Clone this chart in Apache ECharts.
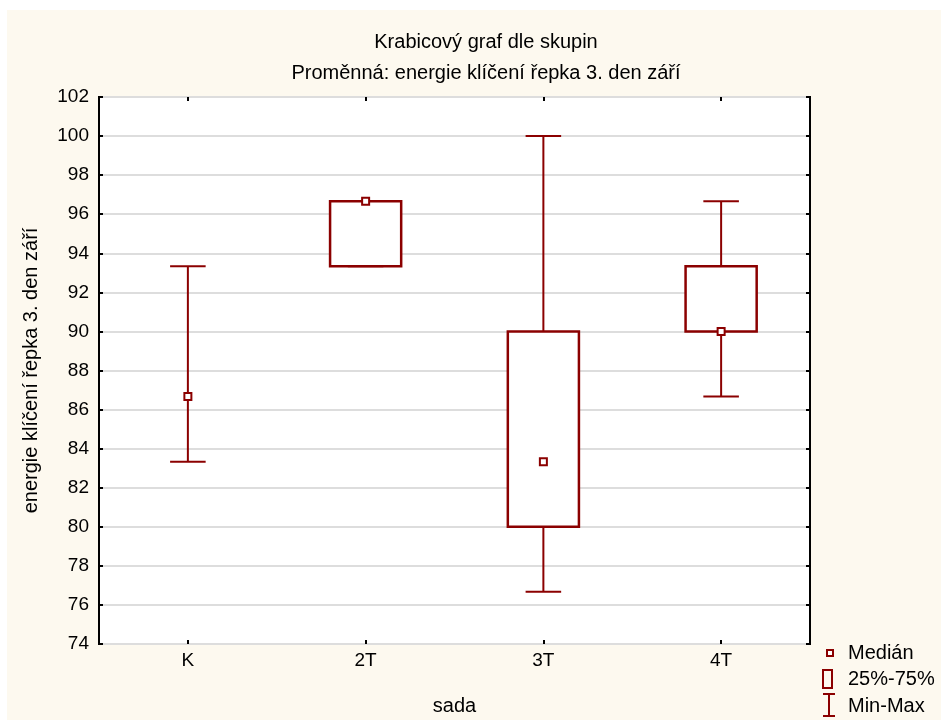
<!DOCTYPE html>
<html>
<head>
<meta charset="utf-8">
<script src="https://cdn.jsdelivr.net/npm/echarts@6/dist/echarts.min.js"></script>
<style>
  html, body { margin: 0; padding: 0; background: #ffffff; overflow: hidden; }
  #frame { position: absolute; left: 7px; top: 10px; right: 0; bottom: 0; background: #fdf9ef; }
  #chart { position: absolute; left: 0; top: 0; width: 941px; height: 720px; }
</style>
</head>
<body>
<div id="frame"></div>
<div id="chart"></div>
<script>
// Groups and their five-number summaries
const categories = ['K', '2T', '3T', '4T'];
const minVals    = [83.33, 93.33, 76.67, 86.67];
const q1Vals     = [null,  93.33, 80.00, 90.00];
const medianVals = [86.67, 96.67, 83.33, 90.00];
const q3Vals     = [null,  96.67, 90.00, 93.33];
const maxVals    = [93.33, 96.67, 100.00, 96.67];

// Value axis ticks
const yMin = 74, yMax = 102, yStep = 2;

const DARK_RED = '#8b0000';
const FONT = 'Liberation Sans, Arial, sans-serif';

const summary = categories.map((c, i) => [i, minVals[i], q1Vals[i], medianVals[i], q3Vals[i], maxVals[i]]);

const chart = echarts.init(document.getElementById('chart'), null, { renderer: 'canvas' });

function renderWhisker(params, api) {
  const idx = api.value(0);
  const band = api.size([1, 0])[0];
  const capHalf = band * 0.1;
  const pMin = api.coord([idx, api.value(1)]);
  const pMax = api.coord([idx, api.value(5)]);
  const style = { stroke: DARK_RED, lineWidth: 2, fill: null };
  return {
    type: 'group',
    children: [
      { type: 'line', shape: { x1: pMin[0], y1: pMin[1], x2: pMax[0], y2: pMax[1] }, style },
      { type: 'line', shape: { x1: pMin[0] - capHalf, y1: pMin[1], x2: pMin[0] + capHalf, y2: pMin[1] }, style },
      { type: 'line', shape: { x1: pMax[0] - capHalf, y1: pMax[1], x2: pMax[0] + capHalf, y2: pMax[1] }, style }
    ]
  };
}

function renderBox(params, api) {
  const idx = api.value(0);
  const lo = api.value(2), hi = api.value(4);
  if (lo == null || hi == null || isNaN(lo) || isNaN(hi)) return null;
  const band = api.size([1, 0])[0];
  const half = band * 0.2;
  const pLo = api.coord([idx, lo]);
  const pHi = api.coord([idx, hi]);
  return {
    type: 'rect',
    shape: { x: pLo[0] - half, y: pHi[1], width: half * 2, height: pLo[1] - pHi[1] },
    style: { fill: '#ffffff', stroke: DARK_RED, lineWidth: 2.5 }
  };
}

const labelStyle = { fontFamily: FONT, fontSize: 19, color: '#000' };
const nameStyle = { fontFamily: FONT, fontSize: 20, color: '#000' };
const legendFont = '20px ' + FONT;

const option = {
  backgroundColor: 'transparent',
  animation: false,
  title: [
    { text: 'Krabicový graf dle skupin', left: 481, top: 27, textAlign: 'center',
      textStyle: { fontFamily: FONT, fontSize: 20, fontWeight: 'normal', color: '#000' } },
    { text: 'Proměnná: energie klíčení řepka 3. den září', left: 481, top: 58, textAlign: 'center',
      textStyle: { fontFamily: FONT, fontSize: 20, fontWeight: 'normal', color: '#000' } }
  ],
  grid: {
    left: 99, top: 97, right: 131, bottom: 76,
    outerBoundsMode: 'none', containLabel: false,
    show: true, backgroundColor: '#ffffff', borderColor: '#000', borderWidth: 2
  },
  xAxis: [
    {
      type: 'category', data: categories, position: 'bottom', boundaryGap: true,
      name: 'sada', nameLocation: 'middle', nameGap: 52,
      nameTextStyle: nameStyle,
      axisLine: { show: false },
      axisTick: { show: true, inside: true, alignWithLabel: true, length: 4, lineStyle: { color: '#000', width: 2 } },
      axisLabel: { ...labelStyle, margin: 7 },
      splitLine: { show: false }
    },
    {
      type: 'category', data: categories, position: 'top', boundaryGap: true,
      axisLine: { show: false },
      axisTick: { show: true, inside: true, alignWithLabel: true, length: 4, lineStyle: { color: '#000', width: 2 } },
      axisLabel: { show: false },
      splitLine: { show: false }
    }
  ],
  yAxis: [
    {
      type: 'value', min: yMin, max: yMax, interval: yStep, position: 'left',
      name: 'energie klíčení řepka 3. den září', nameLocation: 'middle', nameGap: 58, nameRotate: 90,
      nameTextStyle: nameStyle,
      axisLine: { show: false },
      axisTick: { show: true, inside: true, length: 4, lineStyle: { color: '#000', width: 2 } },
      axisLabel: { ...labelStyle, margin: 10 },
      splitLine: { show: true, lineStyle: { color: '#dddddd', width: 2 } }
    },
    {
      type: 'value', min: yMin, max: yMax, interval: yStep, position: 'right',
      axisLine: { show: false },
      axisTick: { show: true, inside: true, length: 4, lineStyle: { color: '#000', width: 2 } },
      axisLabel: { show: false },
      splitLine: { show: false }
    }
  ],
  series: [
    {
      name: 'Min-Max', type: 'custom', xAxisIndex: 0, yAxisIndex: 0,
      renderItem: renderWhisker, data: summary, encode: { x: 0, y: [1, 5] }, z: 2
    },
    {
      name: '25%-75%', type: 'custom', xAxisIndex: 0, yAxisIndex: 0,
      renderItem: renderBox, data: summary, encode: { x: 0, y: [2, 4] }, z: 3
    },
    {
      name: 'Medián', type: 'scatter', xAxisIndex: 0, yAxisIndex: 0,
      data: categories.map((c, i) => [i, medianVals[i]]),
      symbol: 'rect', symbolSize: 7,
      itemStyle: { color: '#ffffff', borderColor: DARK_RED, borderWidth: 2, opacity: 1 },
      z: 4
    }
  ],
  graphic: [
    // legend
    { type: 'rect', shape: { x: 827, y: 650, width: 6, height: 6 },
      style: { fill: '#fff', stroke: DARK_RED, lineWidth: 2 }, z: 10 },
    { type: 'text', x: 848, y: 653, style: { text: 'Medián', font: legendFont, fill: '#000', verticalAlign: 'middle' }, z: 10 },
    { type: 'rect', shape: { x: 823, y: 670, width: 9, height: 18 },
      style: { fill: 'none', stroke: DARK_RED, lineWidth: 2 }, z: 10 },
    { type: 'text', x: 848, y: 679, style: { text: '25%-75%', font: legendFont, fill: '#000', verticalAlign: 'middle' }, z: 10 },
    { type: 'line', shape: { x1: 829, y1: 694, x2: 829, y2: 716 }, style: { stroke: DARK_RED, lineWidth: 2 }, z: 10 },
    { type: 'line', shape: { x1: 823, y1: 694, x2: 835, y2: 694 }, style: { stroke: DARK_RED, lineWidth: 2 }, z: 10 },
    { type: 'line', shape: { x1: 823, y1: 716, x2: 835, y2: 716 }, style: { stroke: DARK_RED, lineWidth: 2 }, z: 10 },
    { type: 'text', x: 848, y: 706, style: { text: 'Min-Max', font: legendFont, fill: '#000', verticalAlign: 'middle' }, z: 10 }
  ]
};

chart.setOption(option);
</script>
</body>
</html>
